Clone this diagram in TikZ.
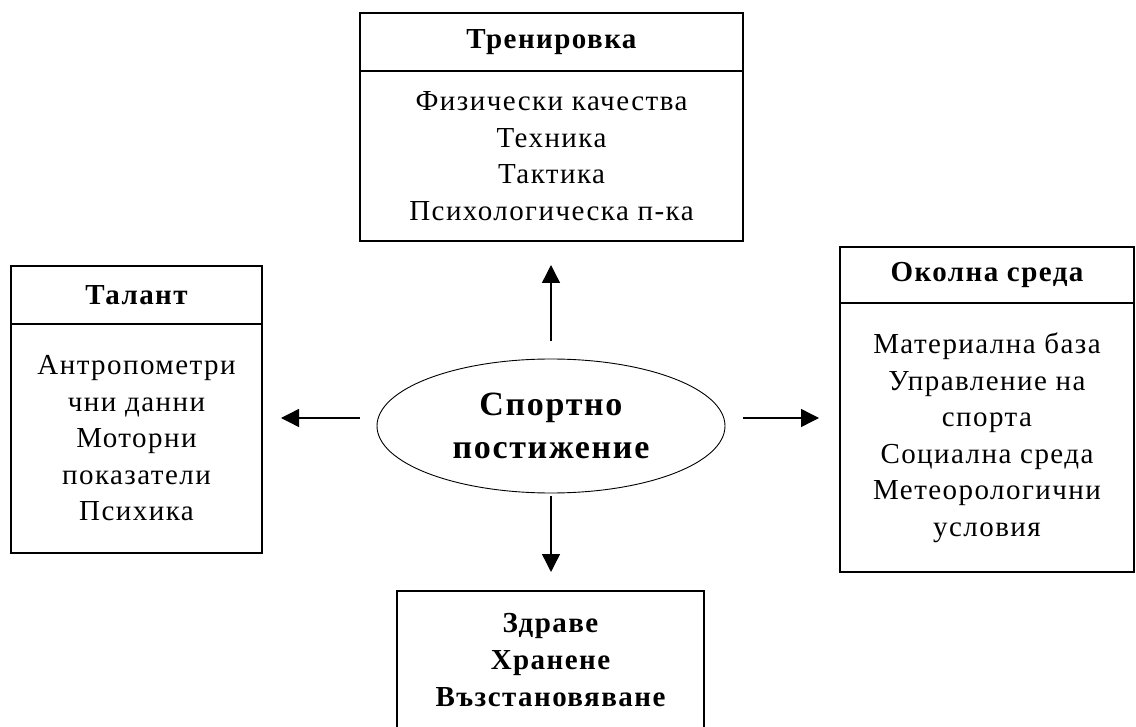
\documentclass[tikz,border=0pt]{standalone}
\usepackage{fontspec}
\setmainfont[LetterSpace=5]{Liberation Serif}
\usepackage{tikz}
\usetikzlibrary{shapes.geometric, arrows.meta, positioning}
\tikzstyle{titlebox} = [
    rectangle, minimum height=58pt, text centered, draw=black,
    line width=1.3pt, outer sep=0pt, inner sep=0pt,
    font=\fontsize{29}{36}\selectfont\bfseries
]
\tikzstyle{listbox} = [
    rectangle, text centered, align=center, draw=black,
    line width=1.3pt, outer sep=0pt, inner sep=0pt,
    font=\fontsize{29}{36.5}\selectfont
]
\tikzstyle{arrow} = [line width=1.4pt,->,>={Triangle[length=18pt,width=18pt]}]

\begin{document}
\begin{tikzpicture}[x=1pt, y=1pt]
        \useasboundingbox (0,0) rectangle (1136,-727);
        \clip (0,0) rectangle (1136,-727);
        % central ellipse
        \node (spo) [ellipse, draw=black, line width=0.9pt, inner sep=0pt,
            minimum width=348pt, minimum height=134pt, align=center,
            font=\fontsize{34}{43}\selectfont\bfseries] at (551,-426)
            {Спортно\\постижение};
        % top box
        \node (trentitle) [titlebox, minimum width=383pt] at (551.5,-42)
            {Тренировка};
        \node (trenbody) [listbox, minimum width=383pt, minimum height=170pt,
            below=0pt of trentitle]
            {Физически качества\\Техника\\Тактика\\Психологическа п-ка};
        % left box
        \node (taltitle) [titlebox, minimum width=251pt] at (136.5,-295)
            {Талант};
        \node (talbody) [listbox, minimum width=251pt, minimum height=229pt,
            below=0pt of taltitle]
            {Антропометри\\чни данни\\Моторни\\показатели\\Психика};
        % right box
        \node (okotitle) [titlebox, minimum width=294pt, minimum height=56pt]
            at (987,-275) {Околна среда};
        \node (okobody) [listbox, minimum width=294pt, minimum height=269pt,
            below=0pt of okotitle]
            {Материална база\\Управление на\\спорта\\Социална среда\\%
            Метеорологични\\условия};
        % bottom box
        \node (zdrave) [listbox, minimum width=307pt, minimum height=138pt,
            font=\fontsize{29}{37}\selectfont\bfseries] at (550.5,-660)
            {Здраве\\Хранене\\Възстановяване};

        \draw [arrow, shorten <=18pt, shorten >=24pt]
            (spo.north) -- (spo.north |- trenbody.south);
        \draw [arrow, shorten <=3pt, shorten >=19pt]
            (spo.south) -- (spo.south |- zdrave.north);
        \draw [arrow, shorten <=17pt, shorten >=19pt]
            ([yshift=8pt]spo.west) -- ([yshift=8pt]spo.west -| talbody.east);
        \draw [arrow, shorten <=18pt, shorten >=21pt]
            ([yshift=8pt]spo.east) -- ([yshift=8pt]spo.east -| okobody.west);
    \end{tikzpicture}
\end{document}
